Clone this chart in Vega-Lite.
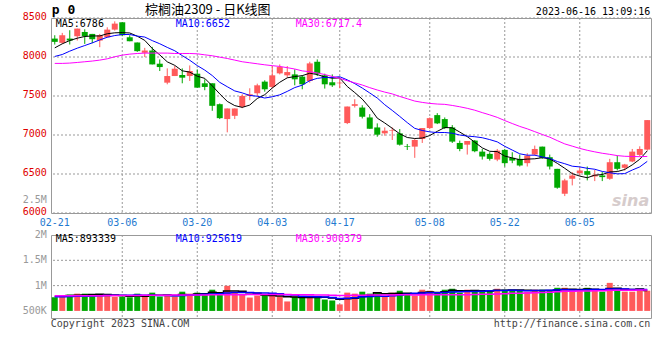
{
"$schema": "https://vega.github.io/schema/vega-lite/v6.json",
"padding": {"left": 22, "top": 3, "right": 5, "bottom": 5},
"background": "white",
"spacing": 22,
"bounds": "flush",
"datasets": {
"gx": [{"d":"03-06"},{"d":"03-20"},{"d":"04-03"},{"d":"04-17"},{"d":"05-08"},{"d":"05-22"},{"d":"06-05"}],
"py": [{"p":6000},{"p":6500},{"p":7000},{"p":7500},{"p":8000},{"p":8500}],
"vy": [{"q":500000,"t":"500K"},{"q":1000000,"t":"1M"},{"q":1500000,"t":"1.5M"},{"q":2000000,"t":"2M"}],
"k": [
{"d":"02-21","o":8236,"h":8279,"l":8160,"c":8194,"m5":8117,"m10":8007,"m30":7918,"v":770000,"v5":790000,"v10":780000,"v30":800000},
{"d":"02-22","o":8181,"h":8309,"l":8168,"c":8279,"m5":8169,"m10":8032,"m30":7918,"v":803000,"v5":795000,"v10":782000,"v30":800000},
{"d":"02-23","o":8236,"h":8343,"l":8160,"c":8211,"m5":8211,"m10":8075,"m30":7922,"v":822000,"v5":805000,"v10":785000,"v30":800000},
{"d":"02-24","o":8266,"h":8364,"l":8211,"c":8364,"m5":8241,"m10":8113,"m30":7930,"v":841000,"v5":810000,"v10":788000,"v30":800000},
{"d":"02-27","o":8321,"h":8355,"l":8168,"c":8266,"m5":8263,"m10":8147,"m30":7939,"v":841000,"v5":815000,"v10":790000,"v30":800000},
{"d":"02-28","o":8296,"h":8296,"l":8177,"c":8228,"m5":8270,"m10":8181,"m30":7948,"v":822000,"v5":826000,"v10":795000,"v30":801000},
{"d":"03-01","o":8211,"h":8296,"l":8126,"c":8279,"m5":8270,"m10":8219,"m30":7960,"v":822000,"v5":830000,"v10":800000,"v30":802000},
{"d":"03-02","o":8253,"h":8381,"l":8253,"c":8351,"m5":8298,"m10":8253,"m30":7977,"v":803000,"v5":826000,"v10":805000,"v30":803000},
{"d":"03-03","o":8351,"h":8457,"l":8338,"c":8428,"m5":8310,"m10":8275,"m30":8003,"v":783000,"v5":814000,"v10":808000,"v30":804000},
{"d":"03-06","o":8445,"h":8445,"l":8266,"c":8279,"m5":8313,"m10":8288,"m30":8024,"v":783000,"v5":803000,"v10":809000,"v30":805000},
{"d":"03-07","o":8253,"h":8279,"l":8202,"c":8202,"m5":8308,"m10":8289,"m30":8037,"v":770000,"v5":792000,"v10":809000,"v30":806000},
{"d":"03-08","o":8186,"h":8186,"l":8066,"c":8075,"m5":8267,"m10":8268,"m30":8045,"v":841000,"v5":796000,"v10":813000,"v30":807000},
{"d":"03-09","o":8054,"h":8117,"l":7999,"c":8083,"m5":8213,"m10":8256,"m30":8050,"v":783000,"v5":792000,"v10":809000,"v30":808000},
{"d":"03-10","o":8083,"h":8130,"l":7905,"c":7905,"m5":8109,"m10":8210,"m30":8050,"v":861000,"v5":808000,"v10":811000,"v30":809000},
{"d":"03-13","o":7914,"h":7969,"l":7820,"c":7871,"m5":8027,"m10":8170,"m30":8050,"v":783000,"v5":808000,"v10":805000,"v30":810000},
{"d":"03-14","o":7671,"h":7854,"l":7650,"c":7756,"m5":7938,"m10":8123,"m30":8050,"v":803000,"v5":814000,"v10":803000,"v30":811000},
{"d":"03-15","o":7756,"h":7884,"l":7756,"c":7850,"m5":7893,"m10":8080,"m30":8045,"v":783000,"v5":803000,"v10":799000,"v30":812000},
{"d":"03-16","o":7769,"h":7854,"l":7663,"c":7735,"m5":7823,"m10":8018,"m30":8045,"v":880000,"v5":822000,"v10":807000,"v30":813000},
{"d":"03-17","o":7756,"h":7892,"l":7692,"c":7820,"m5":7806,"m10":7958,"m30":8045,"v":841000,"v5":818000,"v10":813000,"v30":814000},
{"d":"03-20","o":7786,"h":7841,"l":7607,"c":7607,"m5":7754,"m10":7890,"m30":8041,"v":861000,"v5":834000,"v10":821000,"v30":815000},
{"d":"03-21","o":7663,"h":7714,"l":7574,"c":7616,"m5":7726,"m10":7832,"m30":8028,"v":841000,"v5":841000,"v10":828000,"v30":816000},
{"d":"03-22","o":7663,"h":7663,"l":7310,"c":7374,"m5":7630,"m10":7762,"m30":8016,"v":919000,"v5":868000,"v10":836000,"v30":817000},
{"d":"03-23","o":7395,"h":7404,"l":7204,"c":7216,"m5":7527,"m10":7675,"m30":7998,"v":841000,"v5":861000,"v10":841000,"v30":818000},
{"d":"03-24","o":7204,"h":7340,"l":7034,"c":7340,"m5":7431,"m10":7619,"m30":7981,"v":996000,"v5":892000,"v10":855000,"v30":819000},
{"d":"03-27","o":7246,"h":7340,"l":7204,"c":7340,"m5":7377,"m10":7565,"m30":7960,"v":861000,"v5":892000,"v10":863000,"v30":820000},
{"d":"03-28","o":7361,"h":7522,"l":7344,"c":7501,"m5":7354,"m10":7540,"m30":7939,"v":822000,"v5":888000,"v10":865000,"v30":821000},
{"d":"03-29","o":7501,"h":7599,"l":7446,"c":7522,"m5":7384,"m10":7507,"m30":7926,"v":764000,"v5":857000,"v10":863000,"v30":822000},
{"d":"03-30","o":7535,"h":7658,"l":7501,"c":7637,"m5":7468,"m10":7497,"m30":7913,"v":803000,"v5":849000,"v10":855000,"v30":823000},
{"d":"03-31","o":7684,"h":7701,"l":7556,"c":7586,"m5":7517,"m10":7474,"m30":7900,"v":822000,"v5":814000,"v10":853000,"v30":825000},
{"d":"04-03","o":7616,"h":7884,"l":7599,"c":7765,"m5":7602,"m10":7490,"m30":7889,"v":803000,"v5":803000,"v10":847000,"v30":826000},
{"d":"04-04","o":7790,"h":7905,"l":7777,"c":7871,"m5":7676,"m10":7515,"m30":7879,"v":783000,"v5":795000,"v10":841000,"v30":826000},
{"d":"04-06","o":7765,"h":7884,"l":7735,"c":7807,"m5":7733,"m10":7559,"m30":7863,"v":687000,"v5":780000,"v10":818000,"v30":822000},
{"d":"04-07","o":7777,"h":7841,"l":7637,"c":7714,"m5":7749,"m10":7608,"m30":7846,"v":783000,"v5":776000,"v10":812000,"v30":821000},
{"d":"04-10","o":7748,"h":7765,"l":7586,"c":7650,"m5":7761,"m10":7639,"m30":7822,"v":764000,"v5":764000,"v10":789000,"v30":818000},
{"d":"04-11","o":7692,"h":7939,"l":7671,"c":7918,"m5":7792,"m10":7697,"m30":7811,"v":803000,"v5":764000,"v10":783000,"v30":817000},
{"d":"04-12","o":7939,"h":7969,"l":7756,"c":7786,"m5":7775,"m10":7726,"m30":7796,"v":783000,"v5":764000,"v10":780000,"v30":816000},
{"d":"04-13","o":7765,"h":7786,"l":7595,"c":7650,"m5":7744,"m10":7738,"m30":7775,"v":725000,"v5":772000,"v10":776000,"v30":813000},
{"d":"04-14","o":7676,"h":7777,"l":7616,"c":7637,"m5":7728,"m10":7738,"m30":7751,"v":706000,"v5":756000,"v10":766000,"v30":809000},
{"d":"04-17","o":7663,"h":7714,"l":7599,"c":7671,"m5":7732,"m10":7747,"m30":7726,"v":629000,"v5":729000,"v10":747000,"v30":804000},
{"d":"04-18","o":7153,"h":7365,"l":7140,"c":7365,"m5":7622,"m10":7707,"m30":7696,"v":861000,"v5":741000,"v10":752000,"v30":807000},
{"d":"04-19","o":7374,"h":7459,"l":7352,"c":7395,"m5":7544,"m10":7659,"m30":7669,"v":841000,"v5":752000,"v10":758000,"v30":809000},
{"d":"04-20","o":7352,"h":7382,"l":7212,"c":7234,"m5":7460,"m10":7602,"m30":7641,"v":880000,"v5":783000,"v10":778000,"v30":810000},
{"d":"04-21","o":7225,"h":7267,"l":7080,"c":7080,"m5":7349,"m10":7539,"m30":7607,"v":841000,"v5":810000,"v10":783000,"v30":812000},
{"d":"04-24","o":7097,"h":7149,"l":6978,"c":7004,"m5":7216,"m10":7474,"m30":7577,"v":861000,"v5":857000,"v10":793000,"v30":812000},
{"d":"04-25","o":7021,"h":7097,"l":6991,"c":7055,"m5":7154,"m10":7388,"m30":7550,"v":783000,"v5":841000,"v10":791000,"v30":812000},
{"d":"04-26","o":7051,"h":7097,"l":6936,"c":7059,"m5":7086,"m10":7315,"m30":7527,"v":861000,"v5":845000,"v10":799000,"v30":814000},
{"d":"04-27","o":7021,"h":7076,"l":6864,"c":6876,"m5":7015,"m10":7238,"m30":7494,"v":899000,"v5":849000,"v10":816000,"v30":818000},
{"d":"04-28","o":6855,"h":6885,"l":6808,"c":6847,"m5":6968,"m10":7159,"m30":7465,"v":841000,"v5":849000,"v10":830000,"v30":817000},
{"d":"05-04","o":6851,"h":6949,"l":6707,"c":6936,"m5":6955,"m10":7085,"m30":7435,"v":803000,"v5":837000,"v10":847000,"v30":816000},
{"d":"05-05","o":6949,"h":7089,"l":6898,"c":7089,"m5":6961,"m10":7058,"m30":7418,"v":919000,"v5":865000,"v10":853000,"v30":818000},
{"d":"05-08","o":7089,"h":7225,"l":7076,"c":7216,"m5":6993,"m10":7040,"m30":7405,"v":899000,"v5":872000,"v10":859000,"v30":819000},
{"d":"05-09","o":7255,"h":7280,"l":7140,"c":7149,"m5":7047,"m10":7031,"m30":7397,"v":861000,"v5":865000,"v10":857000,"v30":818000},
{"d":"05-10","o":7204,"h":7225,"l":7076,"c":7089,"m5":7096,"m10":7032,"m30":7393,"v":919000,"v5":880000,"v10":865000,"v30":820000},
{"d":"05-11","o":7097,"h":7127,"l":6898,"c":6915,"m5":7092,"m10":7023,"m30":7379,"v":938000,"v5":907000,"v10":872000,"v30":818000},
{"d":"05-12","o":6898,"h":6928,"l":6792,"c":6821,"m5":7038,"m10":7000,"m30":7362,"v":861000,"v5":896000,"v10":880000,"v30":818000},
{"d":"05-15","o":6876,"h":6923,"l":6749,"c":6923,"m5":6979,"m10":6986,"m30":7342,"v":919000,"v5":900000,"v10":886000,"v30":821000},
{"d":"05-16","o":6928,"h":6936,"l":6779,"c":6792,"m5":6908,"m10":6978,"m30":7318,"v":880000,"v5":903000,"v10":884000,"v30":825000},
{"d":"05-17","o":6787,"h":6821,"l":6685,"c":6724,"m5":6835,"m10":6965,"m30":7287,"v":899000,"v5":899000,"v10":890000,"v30":828000},
{"d":"05-18","o":6758,"h":6779,"l":6672,"c":6694,"m5":6791,"m10":6941,"m30":7258,"v":899000,"v5":892000,"v10":899000,"v30":831000},
{"d":"05-19","o":6685,"h":6821,"l":6664,"c":6800,"m5":6787,"m10":6912,"m30":7226,"v":938000,"v5":907000,"v10":901000,"v30":836000},
{"d":"05-22","o":6809,"h":6821,"l":6596,"c":6639,"m5":6730,"m10":6855,"m30":7185,"v":919000,"v5":907000,"v10":903000,"v30":840000},
{"d":"05-23","o":6707,"h":6779,"l":6639,"c":6672,"m5":6706,"m10":6807,"m30":7147,"v":899000,"v5":911000,"v10":907000,"v30":847000},
{"d":"05-24","o":6694,"h":6749,"l":6596,"c":6609,"m5":6683,"m10":6759,"m30":7110,"v":899000,"v5":911000,"v10":905000,"v30":851000},
{"d":"05-25","o":6639,"h":6766,"l":6596,"c":6736,"m5":6691,"m10":6741,"m30":7079,"v":880000,"v5":907000,"v10":899000,"v30":855000},
{"d":"05-26","o":6749,"h":6864,"l":6736,"c":6821,"m5":6695,"m10":6741,"m30":7043,"v":919000,"v5":903000,"v10":905000,"v30":859000},
{"d":"05-29","o":6851,"h":6851,"l":6694,"c":6707,"m5":6709,"m10":6719,"m30":7007,"v":919000,"v5":903000,"v10":905000,"v30":863000},
{"d":"05-30","o":6715,"h":6749,"l":6558,"c":6596,"m5":6694,"m10":6700,"m30":6972,"v":899000,"v5":903000,"v10":907000,"v30":869000},
{"d":"05-31","o":6566,"h":6566,"l":6311,"c":6324,"m5":6637,"m10":6660,"m30":6928,"v":957000,"v5":915000,"v10":913000,"v30":877000},
{"d":"06-01","o":6247,"h":6439,"l":6217,"c":6418,"m5":6573,"m10":6632,"m30":6886,"v":957000,"v5":930000,"v10":919000,"v30":888000},
{"d":"06-02","o":6439,"h":6524,"l":6354,"c":6481,"m5":6505,"m10":6600,"m30":6857,"v":899000,"v5":926000,"v10":915000,"v30":890000},
{"d":"06-05","o":6511,"h":6579,"l":6481,"c":6545,"m5":6473,"m10":6591,"m30":6828,"v":899000,"v5":922000,"v10":913000,"v30":892000},
{"d":"06-06","o":6537,"h":6596,"l":6418,"c":6490,"m5":6452,"m10":6573,"m30":6804,"v":957000,"v5":934000,"v10":919000,"v30":894000},
{"d":"06-07","o":6469,"h":6554,"l":6409,"c":6490,"m5":6485,"m10":6561,"m30":6784,"v":919000,"v5":926000,"v10":921000,"v30":897000},
{"d":"06-08","o":6481,"h":6524,"l":6409,"c":6460,"m5":6493,"m10":6533,"m30":6766,"v":880000,"v5":911000,"v10":921000,"v30":897000},
{"d":"06-09","o":6439,"h":6694,"l":6426,"c":6651,"m5":6527,"m10":6516,"m30":6752,"v":1054000,"v5":942000,"v10":934000,"v30":906000},
{"d":"06-12","o":6651,"h":6736,"l":6545,"c":6566,"m5":6531,"m10":6502,"m30":6736,"v":919000,"v5":946000,"v10":934000,"v30":908000},
{"d":"06-13","o":6579,"h":6630,"l":6545,"c":6622,"m5":6558,"m10":6505,"m30":6727,"v":880000,"v5":930000,"v10":932000,"v30":908000},
{"d":"06-14","o":6660,"h":6821,"l":6651,"c":6787,"m5":6617,"m10":6551,"m30":6725,"v":880000,"v5":923000,"v10":924000,"v30":909000},
{"d":"06-15","o":6745,"h":6855,"l":6724,"c":6821,"m5":6689,"m10":6591,"m30":6722,"v":938000,"v5":934000,"v10":923000,"v30":914000},
{"d":"06-16","o":6813,"h":7191,"l":6800,"c":7191,"m5":6797,"m10":6662,"m30":6725,"v":899000,"v5":903000,"v10":923000,"v30":913000}
]},
"vconcat": [
{
 "width": 600, "height": 195,
 "resolve": {"axis": {"x": "independent", "y": "independent"}},
 "layer": [
  {
   "layer": [
    {"data": {"name": "py"}, "mark": {"type": "rule", "color": "#999999", "strokeDash": [2, 2], "strokeWidth": 1},
     "encoding": {"y": {"field": "p", "type": "quantitative", "title": null, "scale": {"domain": [6000, 8500], "nice": false, "zero": false},
       "axis": {"labels": false, "grid": false, "ticks": false, "domain": false}}}},
    {"data": {"name": "gx"}, "mark": {"type": "rule", "color": "#999999", "strokeDash": [2, 2], "strokeWidth": 1},
     "encoding": {"x": {"field": "d", "type": "ordinal", "title": null,
       "scale": {"type": "band", "paddingInner": 0.2, "paddingOuter": 0.1},
       "axis": {"values": ["02-21","03-06","03-20","04-03","04-17","05-08","05-22","06-05"], "labelAngle": 0, "labelColor": "#1f7ad0", "labelPadding": 4, "grid": false, "labelOverlap": false}}}},
    {"data": {"name": "k"}, "mark": {"type": "rule", "strokeWidth": 1},
     "encoding": {
      "x": {"field": "d", "type": "ordinal", "title": null},
      "y": {"field": "l", "type": "quantitative", "title": null},
      "y2": {"field": "h"},
      "color": {"condition": {"test": "datum.c >= datum.o", "value": "#ff5a5a"}, "value": "#00a800"}}},
    {"data": {"name": "k"}, "mark": {"type": "bar"},
     "encoding": {
      "x": {"field": "d", "type": "ordinal", "title": null},
      "y": {"field": "o", "type": "quantitative", "title": null},
      "y2": {"field": "c"},
      "color": {"condition": {"test": "datum.c >= datum.o", "value": "#ff5a5a"}, "value": "#00a800"}}},
    {"data": {"name": "k"}, "mark": {"type": "line", "color": "#000000", "strokeWidth": 1},
     "encoding": {"x": {"field": "d", "type": "ordinal", "title": null}, "y": {"field": "m5", "type": "quantitative", "title": null}}},
    {"data": {"name": "k"}, "mark": {"type": "line", "color": "#0000ff", "strokeWidth": 1},
     "encoding": {"x": {"field": "d", "type": "ordinal", "title": null}, "y": {"field": "m10", "type": "quantitative", "title": null}}},
    {"data": {"name": "k"}, "mark": {"type": "line", "color": "#ff00ff", "strokeWidth": 1},
     "encoding": {"x": {"field": "d", "type": "ordinal", "title": null}, "y": {"field": "m30", "type": "quantitative", "title": null}}}
   ]
  },
  {
   "data": {"values": [{}]},
   "layer": [
    {"data": {"name": "py"}, "mark": {"type": "text", "align": "right", "baseline": "middle", "dx": -8, "dy": -1, "fontSize": 10, "font": "DejaVu Sans Mono", "color": "#e00000"},
     "encoding": {"x": {"datum": "02-21", "axis": null}, "y": {"field": "p", "type": "quantitative", "axis": null}, "text": {"field": "p", "type": "quantitative", "format": "d"}}},
    {"mark": {"type": "text", "text": "MA5:6786", "align": "left", "baseline": "middle", "dx": 1, "dy": 6, "fontSize": 10, "font": "DejaVu Sans Mono", "color": "#000000"},
     "encoding": {"x": {"datum": "02-21", "axis": null}, "y": {"datum": 8500, "axis": null}}},
    {"mark": {"type": "text", "text": "MA10:6652", "align": "left", "baseline": "middle", "dx": 1, "dy": 6, "fontSize": 10, "font": "DejaVu Sans Mono", "color": "#0000ff"},
     "encoding": {"x": {"datum": "03-15", "axis": null}, "y": {"datum": 8500, "axis": null}}},
    {"mark": {"type": "text", "text": "MA30:6717.4", "align": "left", "baseline": "middle", "dx": 1, "dy": 6, "fontSize": 10, "font": "DejaVu Sans Mono", "color": "#ff00ff"},
     "encoding": {"x": {"datum": "04-07", "axis": null}, "y": {"datum": 8500, "axis": null}}},
    {"mark": {"type": "text", "text": "p 0", "align": "left", "baseline": "middle", "dx": -3, "dy": -8, "fontSize": 13, "fontWeight": "bold", "font": "DejaVu Sans Mono", "color": "#000000"},
     "encoding": {"x": {"datum": "02-21", "axis": null}, "y": {"datum": 8500, "axis": null}}},
    {"mark": {"type": "text", "text": "棕榈油2309 - 日K线图", "align": "center", "baseline": "middle", "dx": 3, "dy": -8, "fontSize": 13, "font": "Noto Sans CJK SC", "color": "#000000"},
     "encoding": {"x": {"datum": "03-21", "axis": null}, "y": {"datum": 8500, "axis": null}}},
    {"mark": {"type": "text", "text": "2023-06-16 13:09:16", "align": "right", "baseline": "middle", "dx": 3, "dy": -6, "fontSize": 10, "font": "DejaVu Sans Mono", "color": "#000000"},
     "encoding": {"x": {"datum": "06-16", "axis": null}, "y": {"datum": 8500, "axis": null}}},
    {"mark": {"type": "text", "text": "2.5M", "align": "right", "baseline": "middle", "dx": -8, "fontSize": 10, "font": "DejaVu Sans Mono", "color": "#999999"},
     "encoding": {"x": {"datum": "02-21", "axis": null}, "y": {"datum": 6170, "axis": null}}},
    {"mark": {"type": "text", "text": "sina", "align": "right", "baseline": "middle", "dx": 2, "fontSize": 16, "fontStyle": "italic", "fontWeight": "bold", "font": "DejaVu Sans", "color": "#d6cccc"},
     "encoding": {"x": {"datum": "06-16", "axis": null}, "y": {"datum": 6150, "axis": null}}}
   ]
  }
 ]
},
{
 "width": 600, "height": 83,
 "resolve": {"axis": {"x": "independent", "y": "independent"}},
 "layer": [
  {
   "layer": [
    {"data": {"name": "vy"}, "transform": [{"filter": "datum.q > 500000 && datum.q < 2000000"}],
     "mark": {"type": "rule", "color": "#999999", "strokeDash": [2, 2], "strokeWidth": 1},
     "encoding": {"y": {"field": "q", "type": "quantitative", "title": null, "scale": {"domain": [360000, 2000000], "nice": false, "zero": false},
       "axis": {"labels": false, "grid": false, "ticks": false, "domain": false}}}},
    {"data": {"name": "gx"}, "mark": {"type": "rule", "color": "#999999", "strokeDash": [2, 2], "strokeWidth": 1},
     "encoding": {"x": {"field": "d", "type": "ordinal", "title": null,
       "scale": {"type": "band", "paddingInner": 0.2, "paddingOuter": 0.1},
       "axis": {"labels": false, "grid": false, "ticks": false, "domain": false}}}},
    {"data": {"name": "k"}, "mark": {"type": "bar"},
     "encoding": {
      "x": {"field": "d", "type": "ordinal", "title": null},
      "y": {"field": "v", "type": "quantitative", "title": null},
      "y2": {"datum": 500000},
      "color": {"condition": {"test": "datum.c >= datum.o", "value": "#ff5a5a"}, "value": "#00a800"}}},
    {"data": {"name": "k"}, "mark": {"type": "line", "color": "#000000", "strokeWidth": 1.5, "interpolate": "step"},
     "encoding": {"x": {"field": "d", "type": "ordinal", "title": null}, "y": {"field": "v5", "type": "quantitative", "title": null}}},
    {"data": {"name": "k"}, "mark": {"type": "line", "color": "#0000ff", "strokeWidth": 1.5, "interpolate": "step"},
     "encoding": {"x": {"field": "d", "type": "ordinal", "title": null}, "y": {"field": "v10", "type": "quantitative", "title": null}}},
    {"data": {"name": "k"}, "mark": {"type": "line", "color": "#ff00ff", "strokeWidth": 1.5, "interpolate": "step"},
     "encoding": {"x": {"field": "d", "type": "ordinal", "title": null}, "y": {"field": "v30", "type": "quantitative", "title": null}}}
   ]
  },
  {
   "data": {"values": [{}]},
   "layer": [
    {"data": {"name": "vy"}, "mark": {"type": "text", "align": "right", "baseline": "middle", "dx": -8, "fontSize": 10, "font": "DejaVu Sans Mono", "color": "#999999"},
     "encoding": {"x": {"datum": "02-21", "axis": null}, "y": {"field": "q", "type": "quantitative", "axis": null}, "text": {"field": "t", "type": "nominal"}}},
    {"mark": {"type": "text", "text": "MA5:893339", "align": "left", "baseline": "middle", "dx": 1, "dy": 4, "fontSize": 10, "font": "DejaVu Sans Mono", "color": "#000000"},
     "encoding": {"x": {"datum": "02-21", "axis": null}, "y": {"datum": 2000000, "axis": null}}},
    {"mark": {"type": "text", "text": "MA10:925619", "align": "left", "baseline": "middle", "dx": 1, "dy": 4, "fontSize": 10, "font": "DejaVu Sans Mono", "color": "#0000ff"},
     "encoding": {"x": {"datum": "03-15", "axis": null}, "y": {"datum": 2000000, "axis": null}}},
    {"mark": {"type": "text", "text": "MA30:900379", "align": "left", "baseline": "middle", "dx": 1, "dy": 4, "fontSize": 10, "font": "DejaVu Sans Mono", "color": "#ff00ff"},
     "encoding": {"x": {"datum": "04-07", "axis": null}, "y": {"datum": 2000000, "axis": null}}},
    {"mark": {"type": "text", "text": "Copyright 2023 SINA.COM", "align": "left", "baseline": "middle", "dx": -4, "dy": 6, "fontSize": 10, "font": "DejaVu Sans Mono", "color": "#444444"},
     "encoding": {"x": {"datum": "02-21", "axis": null}, "y": {"datum": 360000, "axis": null}}},
    {"mark": {"type": "text", "text": "http://finance.sina.com.cn", "align": "right", "baseline": "middle", "dx": 3, "dy": 6, "fontSize": 10, "font": "DejaVu Sans Mono", "color": "#444444"},
     "encoding": {"x": {"datum": "06-16", "axis": null}, "y": {"datum": 360000, "axis": null}}}
   ]
  }
 ]
}
],
"config": {
 "view": {"stroke": "#999999", "strokeWidth": 1},
 "font": "DejaVu Sans Mono",
 "axis": {"labelFont": "DejaVu Sans Mono", "labelFontSize": 10, "ticks": false, "domain": false, "labelPadding": 4}
}
}
